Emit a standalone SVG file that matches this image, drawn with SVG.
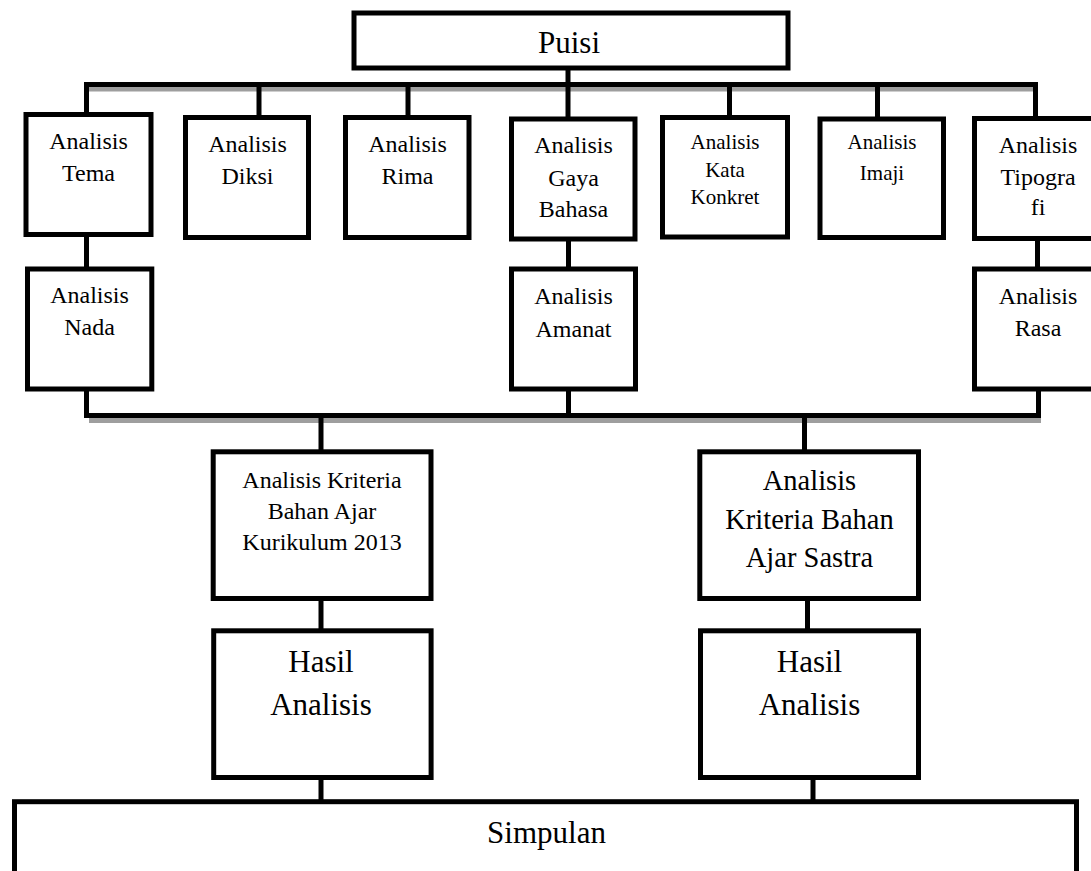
<svg xmlns="http://www.w3.org/2000/svg" width="1091" height="871" viewBox="0 0 1091 871">
<style>
.box{fill:#fff;stroke:#000;stroke-width:5}
.ln{fill:none;stroke:#000;stroke-width:5;stroke-linejoin:miter;stroke-linecap:butt}
.sh{fill:#9e9e9e}
text{font-family:"Liberation Serif","Times New Roman",serif;fill:#000;text-anchor:middle}
.m{font-size:24px}
.s{font-size:21px}
.l{font-size:28.5px}
.xl{font-size:31px}
</style>
<rect width="1091" height="871" fill="#fff"/>
<g id="connectors">
<rect class="sh" x="89" y="87" width="944" height="4.5"/>
<rect class="sh" x="89" y="418" width="952" height="5"/>
<path class="ln" d="M86.5 115 V84.5 H1035.5 V119"/>
<path class="ln" d="M568 70 V120"/>
<path class="ln" d="M259 84 V118"/>
<path class="ln" d="M408 84 V118"/>
<path class="ln" d="M729.5 84 V118"/>
<path class="ln" d="M877.5 84 V119"/>
<path class="ln" d="M86.5 236 V268"/>
<path class="ln" d="M568.5 240 V268"/>
<path class="ln" d="M1037.5 240 V268"/>
<path class="ln" d="M86.5 390 V415.5 H1038.5 V390"/>
<path class="ln" d="M568.5 390 V416"/>
<path class="ln" d="M321 418 V451"/>
<path class="ln" d="M804.5 418 V451"/>
<path class="ln" d="M321 600 V630"/>
<path class="ln" d="M807.5 600 V630"/>
<path class="ln" d="M321 778 V801"/>
<path class="ln" d="M813 778 V801"/>
</g>
<g id="puisi"><rect class="box" x="354" y="13" width="434" height="55"/><text class="xl" x="569" y="53">Puisi</text></g>
<g id="tema"><rect class="box" x="26" y="114.5" width="125" height="120"/><text class="m" x="88.5" y="148.5">Analisis</text><text class="m" x="88.5" y="180.5">Tema</text></g>
<g id="diksi"><rect class="box" x="185.5" y="117.5" width="123" height="120"/><text class="m" x="247.5" y="151.5">Analisis</text><text class="m" x="247.5" y="184">Diksi</text></g>
<g id="rima"><rect class="box" x="345.5" y="117.5" width="123.5" height="120"/><text class="m" x="407.5" y="151.5">Analisis</text><text class="m" x="407.5" y="184">Rima</text></g>
<g id="gaya"><rect class="box" x="511.5" y="119" width="123.5" height="120"/><text class="m" x="573.5" y="152.5">Analisis</text><text class="m" x="573.5" y="185.5">Gaya</text><text class="m" x="573.5" y="217">Bahasa</text></g>
<g id="kata"><rect class="box" x="662.5" y="117.5" width="125" height="119.5"/><text class="s" x="725" y="149">Analisis</text><text class="s" x="725" y="176.5">Kata</text><text class="s" x="725" y="204">Konkret</text></g>
<g id="imaji"><rect class="box" x="820" y="119" width="123.5" height="118.5"/><text class="s" x="882" y="149">Analisis</text><text class="s" x="882" y="180">Imaji</text></g>
<g id="tipografi"><rect class="box" x="974.5" y="118.5" width="125" height="120"/><text class="m" x="1038" y="153">Analisis</text><text class="m" x="1038" y="185">Tipogra</text><text class="m" x="1038" y="215">fi</text></g>
<g id="nada"><rect class="box" x="27.5" y="269" width="124.3" height="120"/><text class="m" x="89.5" y="302.5">Analisis</text><text class="m" x="89.5" y="335">Nada</text></g>
<g id="amanat"><rect class="box" x="511.5" y="269" width="124" height="120"/><text class="m" x="573.5" y="303.5">Analisis</text><text class="m" x="573.5" y="336.5">Amanat</text></g>
<g id="rasa"><rect class="box" x="974.5" y="269" width="125" height="120"/><text class="m" x="1038" y="303.5">Analisis</text><text class="m" x="1038" y="336">Rasa</text></g>
<g id="kriteria2013"><rect class="box" x="213.2" y="451.8" width="217.8" height="146.7"/><text class="m" x="322" y="488">Analisis Kriteria</text><text class="m" x="322" y="519">Bahan Ajar</text><text class="m" x="322" y="550">Kurikulum 2013</text></g>
<g id="kriteriasastra"><rect class="box" x="699.8" y="451.8" width="218.7" height="146.7"/><text class="l" x="809.5" y="490">Analisis</text><text class="l" x="809.5" y="529">Kriteria Bahan</text><text class="l" x="809.5" y="567">Ajar Sastra</text></g>
<g id="hasil1"><rect class="box" x="213.7" y="630.8" width="217.4" height="146.7"/><text class="xl" x="321" y="671.5">Hasil</text><text class="xl" x="321" y="715">Analisis</text></g>
<g id="hasil2"><rect class="box" x="700.5" y="630.8" width="218" height="146.7"/><text class="xl" x="809.5" y="671.5">Hasil</text><text class="xl" x="809.5" y="715">Analisis</text></g>
<g id="simpulan"><rect class="box" x="14.5" y="801.7" width="1062" height="100"/><text class="xl" x="546.5" y="842.5">Simpulan</text></g>
</svg>
